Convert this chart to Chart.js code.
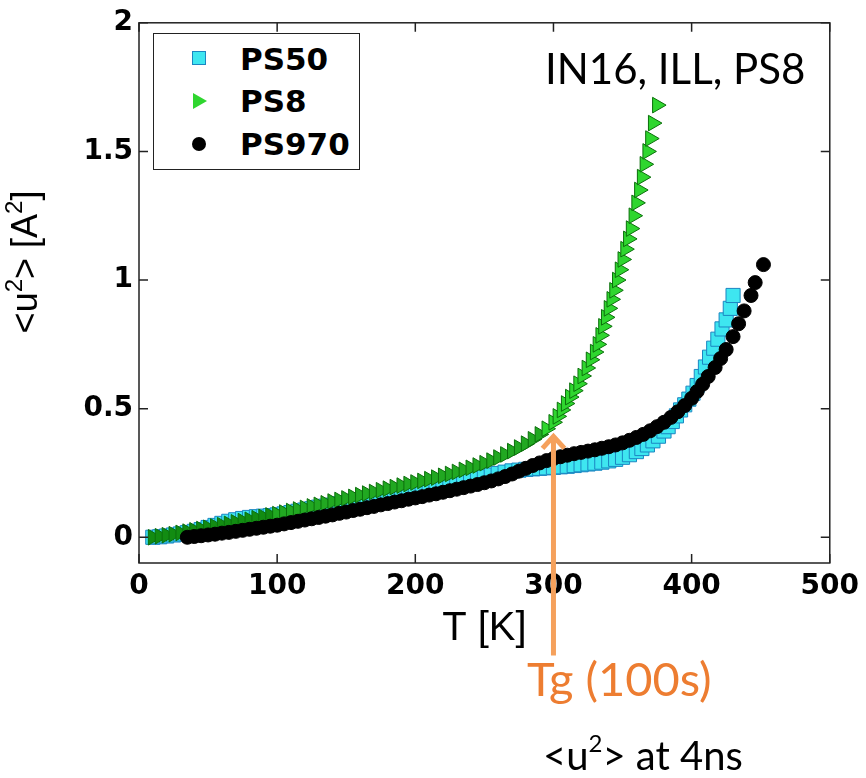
<!DOCTYPE html>
<html>
<head>
<meta charset="utf-8">
<script src="https://cdn.jsdelivr.net/npm/chart.js@4/dist/chart.umd.min.js"></script>
<style>
  body { margin: 0; background: #fff; }
  #wrap { position: relative; width: 866px; height: 778px; }
  #c { position: absolute; left: 0; top: 0; }
  .note { position: absolute; font-family: Lato, "Open Sans", sans-serif; line-height: 1; white-space: nowrap; }
  .note sup { font-size: 0.6em; vertical-align: 0.75em; line-height: 0; }
  #legend { position: absolute; left: 153px; top: 33px; width: 207px; height: 137px;
            box-sizing: border-box; border: 1.5px solid #222; background: #fff; }
  .lg { position: absolute; font: bold 31px "DejaVu Sans"; line-height: 1; color: #000; }
  .mk { position: absolute; }
</style>
</head>
<body>
<div id="wrap">
  <canvas id="c" width="866" height="778"></canvas>

  <div id="legend"></div>
  <div class="mk" style="left:192px;top:51px;width:14px;height:14px;box-sizing:border-box;background:#3ee6f0;border:1px solid #1b86c2;"></div>
  <div class="lg" style="left:240px;top:44px;">PS50</div>
  <div class="mk" style="left:193px;top:93px;width:0;height:0;border-left:14px solid #2fd62f;border-top:8px solid transparent;border-bottom:8px solid transparent;"></div>
  <div class="lg" style="left:240px;top:86px;">PS8</div>
  <div class="mk" style="left:192px;top:137px;width:14px;height:14px;border-radius:50%;background:#000;"></div>
  <div class="lg" style="left:240px;top:129px;">PS970</div>

  <div class="note" style="left:545px;top:47px;font-size:42px;color:#000;">IN16, ILL, PS8</div>
  <div class="note" style="left:527px;top:655px;font-size:47px;color:#ed7d31;">Tg (100s)</div>
  <div class="note" style="left:543px;top:735px;font-size:40px;color:#000;">&lt;u<sup>2</sup>&gt; at 4ns</div>
</div>

<script>
/* ── Axis ticks ── */
const xTicks = [0, 100, 200, 300, 400, 500];
const yTicks = [0, 0.5, 1, 1.5, 2];

/* ── PS50 (cyan squares) ── */
const ps50T = [10, 15, 20, 25, 30, 35, 40, 45, 50, 55, 60, 65, 70, 75, 80, 85, 90, 95, 100,
  105, 110, 115, 120, 125, 130, 135, 140, 145, 150, 155, 160, 165, 170, 175, 180, 185, 190, 195, 200,
  205, 210, 215, 220, 225, 230, 235, 240, 245, 250, 255, 260, 265, 270, 275, 280, 285, 290, 295, 300,
  305, 310, 315, 320, 325, 330, 335, 340, 345, 350, 355, 360,
  364, 368, 372, 376, 380, 383, 386, 389, 392, 395, 398, 401, 404, 407, 410, 413, 416, 419, 422, 425, 428, 430];
const ps50U = [0.000, 0.002, 0.005, 0.009, 0.013, 0.018, 0.023, 0.030, 0.038, 0.046, 0.054, 0.062, 0.068, 0.073, 0.077, 0.080, 0.082, 0.084, 0.087,
  0.091, 0.096, 0.101, 0.106, 0.111, 0.117, 0.121, 0.125, 0.130, 0.134, 0.139, 0.143, 0.148, 0.152, 0.157, 0.161, 0.166, 0.170, 0.175, 0.179,
  0.184, 0.188, 0.193, 0.198, 0.204, 0.210, 0.216, 0.222, 0.229, 0.235, 0.242, 0.248, 0.253, 0.258, 0.261, 0.264, 0.266, 0.268, 0.270, 0.272,
  0.274, 0.276, 0.279, 0.282, 0.285, 0.288, 0.292, 0.297, 0.303, 0.311, 0.321, 0.333,
  0.345, 0.359, 0.375, 0.393, 0.413, 0.430, 0.450, 0.472, 0.495, 0.515, 0.537, 0.560, 0.590, 0.625, 0.662, 0.700, 0.735, 0.770, 0.810, 0.845, 0.890, 0.940];

/* ── PS8 (green triangles) ── */
const ps8T = [10, 15, 20, 25, 30, 35, 40, 45, 50, 55, 60, 65, 70, 75, 80, 85, 90, 95, 100,
  105, 110, 115, 120, 125, 130, 135, 140, 145, 150, 155, 160, 165, 170, 175, 180, 185, 190, 195, 200,
  205, 210, 215, 220, 225, 230, 235, 240, 245, 250, 255, 260, 265, 270, 275, 280, 285, 290, 295, 300,
  303, 306, 309, 312, 315, 318, 321, 324, 327, 330,
  332, 334, 336, 338, 340, 342, 344, 346, 348, 350, 352, 354, 356, 358, 360, 362, 364, 366, 368, 370, 372, 375];
const ps8U = [0.000, 0.004, 0.008, 0.012, 0.017, 0.022, 0.027, 0.032, 0.037, 0.042, 0.047, 0.052, 0.058, 0.063, 0.068, 0.074, 0.079, 0.085, 0.090,
  0.096, 0.102, 0.108, 0.114, 0.120, 0.126, 0.132, 0.139, 0.145, 0.151, 0.157, 0.164, 0.170, 0.176, 0.183, 0.189, 0.195, 0.201, 0.207, 0.213,
  0.219, 0.226, 0.232, 0.239, 0.246, 0.254, 0.262, 0.270, 0.279, 0.288, 0.298, 0.310, 0.322, 0.335, 0.349, 0.364, 0.381, 0.400, 0.422, 0.447,
  0.470, 0.495, 0.520, 0.545, 0.570, 0.597, 0.627, 0.658, 0.690, 0.720,
  0.750, 0.785, 0.820, 0.855, 0.890, 0.925, 0.960, 1.000, 1.040, 1.080, 1.120, 1.160, 1.200, 1.250, 1.300, 1.350, 1.400, 1.450, 1.500, 1.550, 1.610, 1.680];

/* ── PS970 (black circles) ── */
const ps970T = [35, 40, 45, 50, 55, 60, 65, 70, 75, 80, 85, 90, 95, 100,
  105, 110, 115, 120, 125, 130, 135, 140, 145, 150, 155, 160, 165, 170, 175, 180, 185, 190, 195, 200,
  205, 210, 215, 220, 225, 230, 235, 240, 245, 250, 255, 260, 265, 270, 275, 280, 285, 290, 295, 300,
  305, 310, 315, 320, 325, 330, 335, 340, 345, 350, 355, 360, 365, 370, 375, 380, 385, 390, 395, 400,
  404, 408, 412, 417, 421, 425, 430, 434, 438, 443, 446, 452];
const ps970U = [0.000, 0.003, 0.006, 0.009, 0.012, 0.016, 0.019, 0.023, 0.027, 0.031, 0.035, 0.039, 0.043, 0.047,
  0.052, 0.057, 0.062, 0.067, 0.072, 0.077, 0.082, 0.087, 0.093, 0.098, 0.104, 0.109, 0.115, 0.120, 0.126, 0.131, 0.137, 0.142, 0.148, 0.153,
  0.158, 0.164, 0.169, 0.175, 0.181, 0.187, 0.193, 0.199, 0.205, 0.212, 0.219, 0.227, 0.236, 0.246, 0.257, 0.268, 0.279, 0.289, 0.298, 0.306,
  0.313, 0.319, 0.325, 0.330, 0.335, 0.340, 0.346, 0.352, 0.359, 0.367, 0.377, 0.388, 0.400, 0.414, 0.430, 0.447, 0.466, 0.488, 0.512, 0.540,
  0.567, 0.595, 0.625, 0.660, 0.695, 0.730, 0.780, 0.830, 0.880, 0.940, 0.990, 1.060];

/* ── Tg arrow annotation (T, tip and foot in data units) ── */
const arrowT = 300;
const arrowTipU = 0.40;
const arrowFootU = -0.46;

const toPts = (t, u) => t.map((v, i) => ({ x: v, y: u[i] }));

const TICK_FONT = { family: 'DejaVu Sans', size: 28, weight: 'bold' };
const TICK_LEN = 9;
const FRAME_COLOR = '#222';

/* dense low-T part of the PS8 band reads darker (overlapping marker edges) */
const ps8Fill = c => {
  const p = c.raw;
  if (!p) return '#2fd62f';
  if (p.x < 100) return '#128c12';
  if (p.y < 0.42) return '#21a821';
  return '#2fd62f';
};

/* Box frame + inward ticks on all four sides */
const framePlugin = {
  id: 'frame',
  afterDatasetsDraw(chart) {
    const { ctx, chartArea: a, scales: { x, y } } = chart;
    ctx.save();
    ctx.strokeStyle = FRAME_COLOR;
    ctx.lineWidth = 1.5;
    ctx.strokeRect(a.left, a.top, a.right - a.left, a.bottom - a.top);
    ctx.beginPath();
    xTicks.forEach(v => {
      const px = x.getPixelForValue(v);
      ctx.moveTo(px, a.bottom); ctx.lineTo(px, a.bottom - TICK_LEN);
      ctx.moveTo(px, a.top);    ctx.lineTo(px, a.top + TICK_LEN);
    });
    yTicks.forEach(v => {
      const py = y.getPixelForValue(v);
      ctx.moveTo(a.left, py);  ctx.lineTo(a.left + TICK_LEN, py);
      ctx.moveTo(a.right, py); ctx.lineTo(a.right - TICK_LEN, py);
    });
    ctx.stroke();
    ctx.restore();
  },
};

/* Rotated y title (with raised superscripts) + orange arrow */
const yTitleParts = [['<u', false], ['2', true], ['> [A', false], ['2', true], [']', false]];

const extrasPlugin = {
  id: 'extras',
  afterDraw(chart) {
    const { ctx, scales: { x, y } } = chart;
    const big = '36px "Liberation Sans"', small = '24px "Liberation Sans"';
    ctx.save();
    ctx.translate(37, 262);
    ctx.rotate(-Math.PI / 2);
    ctx.fillStyle = '#000';
    ctx.textBaseline = 'alphabetic';
    let total = 0;
    yTitleParts.forEach(([t, sup]) => { ctx.font = sup ? small : big; total += ctx.measureText(t).width; });
    let cx = -total / 2;
    yTitleParts.forEach(([t, sup]) => {
      ctx.font = sup ? small : big;
      ctx.fillText(t, cx, sup ? -15 : 0);
      cx += ctx.measureText(t).width;
    });
    ctx.restore();

    const px = x.getPixelForValue(arrowT);
    const tip = y.getPixelForValue(arrowTipU);
    const foot = y.getPixelForValue(arrowFootU);
    ctx.save();
    ctx.strokeStyle = '#f5a15c';
    ctx.lineWidth = 5;
    ctx.beginPath();
    ctx.moveTo(px, foot);
    ctx.lineTo(px, tip + 3);
    ctx.stroke();
    ctx.lineJoin = 'miter';
    ctx.beginPath();
    ctx.moveTo(px - 11, tip + 14);
    ctx.lineTo(px, tip + 2);
    ctx.lineTo(px + 11, tip + 14);
    ctx.stroke();
    ctx.restore();
  },
};

new Chart(document.getElementById('c'), {
  type: 'scatter',
  data: {
    datasets: [
      { label: 'PS970', data: toPts(ps970T, ps970U), order: 1,
        pointStyle: 'circle', pointRadius: 7,
        pointBackgroundColor: '#000', pointBorderColor: '#000', pointBorderWidth: 1 },
      { label: 'PS8', data: toPts(ps8T, ps8U), order: 2,
        pointStyle: 'triangle', pointRotation: 90, pointRadius: 9,
        pointBackgroundColor: ps8Fill, pointBorderColor: '#0b6f0b', pointBorderWidth: 1 },
      { label: 'PS50', data: toPts(ps50T, ps50U), order: 3,
        pointStyle: 'rect', pointRadius: 10,
        pointBackgroundColor: '#3ee6f0', pointBorderColor: '#1b86c2', pointBorderWidth: 1 },
    ],
  },
  options: {
    responsive: false,
    animation: false,
    events: [],
    layout: { padding: { left: 0, top: 22, right: 36, bottom: 125 } },
    plugins: { legend: { display: false }, tooltip: { enabled: false } },
    scales: {
      x: {
        type: 'linear', min: 0, max: 500,
        grid: { display: false, drawTicks: false },
        border: { display: false },
        afterBuildTicks: s => { s.ticks = xTicks.map(v => ({ value: v })); },
        afterFit: s => { s.height = 90; },
        ticks: { color: '#000', font: TICK_FONT, padding: 7, maxRotation: 0, callback: v => String(v) },
        title: { display: true, text: 'T [K]', color: '#000',
                 font: { family: 'Liberation Sans', size: 40 }, padding: 0 },
      },
      y: {
        type: 'linear', min: -0.1, max: 2,
        grid: { display: false, drawTicks: false },
        border: { display: false },
        afterBuildTicks: s => { s.ticks = yTicks.map(v => ({ value: v })); },
        afterFit: s => { s.width = 139; },
        ticks: { color: '#000', font: TICK_FONT, padding: 6, callback: v => String(v) },
      },
    },
  },
  plugins: [framePlugin, extrasPlugin],
});
</script>
</body>
</html>
